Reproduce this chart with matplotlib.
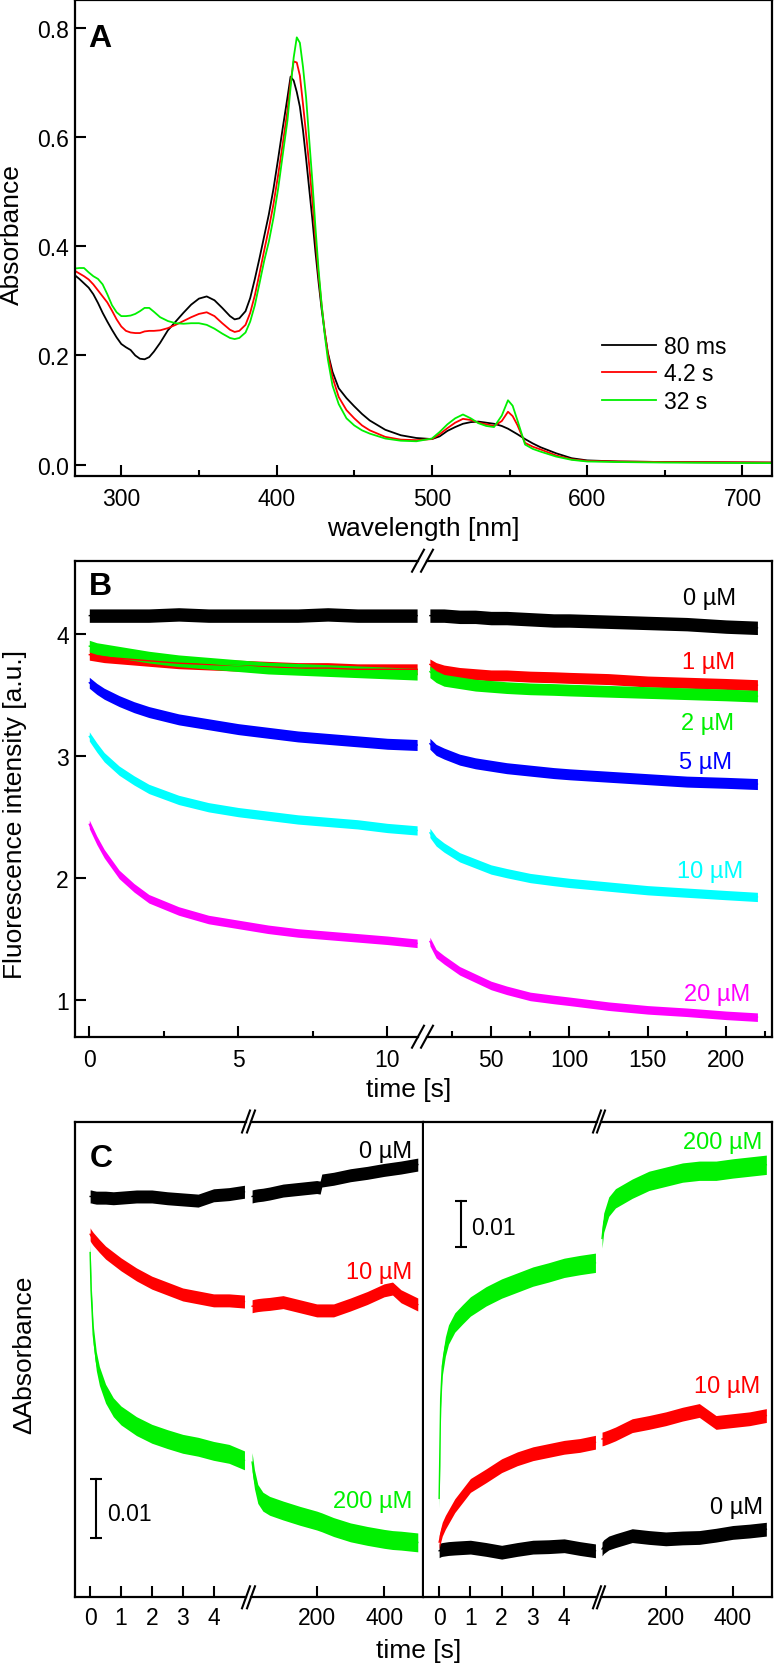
import numpy as np
import matplotlib
matplotlib.use('Agg')
import matplotlib.pyplot as plt
from matplotlib.lines import Line2D
from matplotlib.ticker import MultipleLocator, FixedLocator, FormatStrFormatter, NullLocator

plt.rcParams['font.family'] = ['Liberation Sans', 'DejaVu Sans']

# ---------------- Panel A data: absorbance spectra ----------------
WL = [270, 273, 276, 279, 282, 285, 288, 291, 294, 297,
      300, 303, 306, 309, 312, 315, 318, 321, 325, 330,
      335, 340, 345, 350, 355, 360, 365, 370, 373, 376,
      380, 383, 386, 389, 392, 395, 398, 401, 404, 407,
      409, 411, 413, 415, 417, 419, 421, 423, 425, 427,
      429, 431, 433, 436, 440, 445, 450, 455, 460, 470,
      480, 490, 500, 505, 510, 515, 520, 525, 530, 535,
      540, 545, 549, 552, 555, 560, 565, 570, 580, 590,
      600, 620, 650, 720]
ABS_80MS = [0.347, 0.340, 0.332, 0.324, 0.312, 0.296, 0.278, 0.262, 0.247, 0.233,
            0.221, 0.215, 0.210, 0.200, 0.194, 0.193, 0.197, 0.207, 0.223, 0.246,
            0.262, 0.278, 0.293, 0.304, 0.308, 0.301, 0.287, 0.272, 0.266, 0.268,
            0.281, 0.305, 0.340, 0.378, 0.418, 0.458, 0.505, 0.560, 0.617, 0.672,
            0.710, 0.703, 0.682, 0.655, 0.612, 0.560, 0.505, 0.450, 0.390, 0.335,
            0.285, 0.242, 0.205, 0.170, 0.140, 0.122, 0.107, 0.093, 0.081, 0.064,
            0.054, 0.049, 0.047, 0.052, 0.062, 0.069, 0.075, 0.078, 0.079, 0.077,
            0.075, 0.071, 0.066, 0.061, 0.056, 0.047, 0.039, 0.032, 0.021, 0.012,
            0.008, 0.006, 0.005, 0.004]
ABS_4S = [0.355, 0.350, 0.345, 0.339, 0.330, 0.319, 0.308, 0.297, 0.282, 0.266,
          0.253, 0.245, 0.242, 0.241, 0.241, 0.244, 0.245, 0.245, 0.246, 0.250,
          0.256, 0.263, 0.270, 0.276, 0.279, 0.272, 0.259, 0.247, 0.243, 0.245,
          0.256, 0.278, 0.310, 0.350, 0.392, 0.432, 0.477, 0.530, 0.588, 0.648,
          0.700, 0.738, 0.736, 0.712, 0.660, 0.605, 0.548, 0.485, 0.415, 0.348,
          0.292, 0.244, 0.203, 0.160, 0.124, 0.100, 0.085, 0.072, 0.063, 0.051,
          0.046, 0.045, 0.047, 0.056, 0.067, 0.077, 0.084, 0.082, 0.077, 0.074,
          0.071, 0.080, 0.097, 0.089, 0.073, 0.040, 0.033, 0.028, 0.017, 0.010,
          0.007, 0.006, 0.005, 0.004]
ABS_32S = [0.359, 0.360, 0.360, 0.352, 0.345, 0.340, 0.330, 0.312, 0.292, 0.279,
           0.272, 0.272, 0.273, 0.276, 0.281, 0.287, 0.287, 0.280, 0.270, 0.263,
           0.259, 0.258, 0.259, 0.259, 0.256, 0.249, 0.240, 0.232, 0.230, 0.232,
           0.242, 0.262, 0.292, 0.332, 0.373, 0.408, 0.452, 0.505, 0.568, 0.630,
           0.690, 0.745, 0.782, 0.772, 0.728, 0.672, 0.595, 0.520, 0.435, 0.358,
           0.293, 0.238, 0.193, 0.145, 0.111, 0.085, 0.072, 0.063, 0.057, 0.048,
           0.044, 0.043, 0.048, 0.060, 0.074, 0.085, 0.092, 0.085, 0.076, 0.071,
           0.069, 0.090, 0.118, 0.108, 0.082, 0.037, 0.029, 0.024, 0.015, 0.009,
           0.006, 0.005, 0.004, 0.003]
A_LABELS = ['80 ms', '4.2 s', '32 s']
A_COLORS = ['#000000', '#FF0000', '#00F000']

# ---------------- Panel B data: fluorescence traces ----------------
B_T_LEFT = [0, 0.25, 0.5, 1, 1.5, 2, 3, 4, 5, 6, 7, 8, 9, 10, 11]
B_T_RIGHT = [11, 15, 20, 30, 40, 50, 60, 75, 90, 100, 125, 150, 175, 200, 220]
B_LABELS = ['0 µM', '1 µM', '2 µM', '5 µM', '10 µM', '20 µM']
B_COLORS = ['#000000', '#FF0000', '#00F000', '#0000FF', '#00FFFF', '#FF00FF']
B_LEFT = [
    [4.15, 4.15, 4.15, 4.15, 4.15, 4.15, 4.16, 4.15, 4.15, 4.15, 4.15, 4.16, 4.15, 4.15, 4.15],
    [3.83, 3.82, 3.81, 3.80, 3.79, 3.78, 3.76, 3.75, 3.74, 3.73, 3.72, 3.72, 3.71, 3.71, 3.71],
    [3.90, 3.88, 3.87, 3.85, 3.83, 3.81, 3.78, 3.76, 3.74, 3.72, 3.71, 3.70, 3.69, 3.68, 3.67],
    [3.60, 3.55, 3.51, 3.45, 3.40, 3.36, 3.30, 3.26, 3.22, 3.19, 3.16, 3.14, 3.12, 3.10, 3.09],
    [3.16, 3.07, 2.99, 2.88, 2.80, 2.73, 2.64, 2.58, 2.54, 2.51, 2.48, 2.46, 2.44, 2.41, 2.39],
    [2.44, 2.31, 2.20, 2.03, 1.92, 1.83, 1.73, 1.66, 1.62, 1.58, 1.55, 1.53, 1.51, 1.49, 1.465],
]
B_RIGHT = [
    [4.15, 4.15, 4.15, 4.14, 4.14, 4.13, 4.13, 4.12, 4.11, 4.11, 4.10, 4.09, 4.08, 4.06, 4.05],
    [3.75, 3.72, 3.70, 3.68, 3.67, 3.66, 3.66, 3.65, 3.645, 3.64, 3.63, 3.61, 3.60, 3.59, 3.58],
    [3.69, 3.65, 3.62, 3.60, 3.58, 3.57, 3.56, 3.55, 3.545, 3.54, 3.53, 3.52, 3.51, 3.50, 3.49],
    [3.10, 3.05, 3.02, 2.97, 2.94, 2.92, 2.90, 2.88, 2.86, 2.85, 2.83, 2.81, 2.79, 2.78, 2.77],
    [2.37, 2.30, 2.25, 2.17, 2.12, 2.07, 2.04, 2.00, 1.975, 1.96, 1.93, 1.90, 1.88, 1.86, 1.845],
    [1.48, 1.38, 1.33, 1.24, 1.18, 1.12, 1.08, 1.03, 1.005, 0.99, 0.95, 0.92, 0.90, 0.875, 0.86],
]
B_NOISE = [0.055, 0.045, 0.048, 0.045, 0.038, 0.035]   # half-width of the noise band

# ---------------- Panel C data: delta absorbance traces ----------------
C_COLORS = ['#000000', '#FF0000', '#00F000']
C_LABELS = ['0 µM', '10 µM', '200 µM']
# left panel
CL_T1 = [0, 0.03, 0.1, 0.2, 0.3, 0.5, 0.75, 1, 1.5, 2, 2.5, 3, 3.5, 4, 4.5, 5]
CL_T2 = [8, 15, 25, 40, 60, 100, 150, 200, 210, 215, 250, 300, 350, 400, 425, 450, 500]
CL_1 = [
    [0.0679, 0.0679, 0.0678, 0.0677, 0.0677, 0.0677, 0.0676, 0.0677, 0.0679, 0.0679, 0.0676,
     0.0674, 0.0672, 0.0681, 0.0683, 0.0687],
    [0.0615, 0.0612, 0.0607, 0.0601, 0.0595, 0.0584, 0.0574, 0.0564, 0.0547, 0.0533, 0.0523,
     0.0513, 0.0508, 0.0503, 0.0503, 0.0501],
    [0.0584, 0.0520, 0.0445, 0.0400, 0.0375, 0.0345, 0.0322, 0.0308, 0.0290, 0.0277, 0.0268,
     0.0260, 0.0255, 0.0248, 0.0243, 0.0232],
]
CL_2 = [
    [0.0679, 0.0680, 0.0681, 0.0682, 0.0684, 0.0689, 0.0692, 0.0695, 0.0694, 0.0706, 0.0709,
     0.0715, 0.0719, 0.0724, 0.0726, 0.0728, 0.0733],
    [0.0493, 0.0494, 0.0495, 0.0496, 0.0497, 0.0500, 0.0493, 0.0486, 0.0486, 0.0486, 0.0486,
     0.0496, 0.0507, 0.0520, 0.0523, 0.0510, 0.0496],
    [0.0229, 0.0200, 0.0175, 0.0162, 0.0155, 0.0147, 0.0138, 0.0130, 0.0128, 0.0127, 0.0119,
     0.0110, 0.0104, 0.0099, 0.0097, 0.0096, 0.0093],
]
CL_NOISE = [0.0011, 0.0011, 0.0016]
# right panel
CR_T1 = [0, 0.05, 0.1, 0.2, 0.3, 0.5, 0.75, 1, 1.5, 2, 2.5, 3, 3.5, 4, 4.5, 5]
CR_T2 = [10, 15, 30, 50, 100, 150, 200, 250, 300, 350, 400, 450, 500]
CR_1 = [
    [0.0101, 0.0103, 0.0104, 0.0105, 0.0106, 0.0107, 0.0108, 0.0109, 0.0104, 0.0098, 0.0104,
     0.0109, 0.0110, 0.0112, 0.0106, 0.0101],
    [0.0120, 0.0135, 0.0148, 0.0163, 0.0175, 0.0199, 0.0221, 0.0243, 0.0264, 0.0286, 0.0301,
     0.0312, 0.0319, 0.0326, 0.0330, 0.0337],
    [0.0215, 0.0432, 0.0502, 0.0545, 0.0571, 0.0597, 0.0615, 0.0632, 0.0654, 0.0671, 0.0684,
     0.0697, 0.0706, 0.0716, 0.0722, 0.0727],
]
CR_2 = [
    [0.0105, 0.0110, 0.0118, 0.0123, 0.0134, 0.0130, 0.0127, 0.0129, 0.0130, 0.0135, 0.0141,
     0.0144, 0.0148],
    [0.0344, 0.0345, 0.0349, 0.0355, 0.0373, 0.0380, 0.0388, 0.0398, 0.0406, 0.0380, 0.0384,
     0.0388, 0.0395],
    [0.0780, 0.0814, 0.0849, 0.0867, 0.0888, 0.0905, 0.0914, 0.0923, 0.0927, 0.0927, 0.0932,
     0.0936, 0.0940],
]
CR_NOISE = [0.0015, 0.0015, 0.0021]
SCALE_BAR = 0.01

assert len(WL) == len(ABS_80MS) == len(ABS_4S) == len(ABS_32S)

# ---------------- figure / layout helpers ----------------
W, H = 774, 1665
fig = plt.figure(figsize=(W / 100, H / 100), dpi=100)


def axes_px(l, t, r, b):
    return fig.add_axes([l / W, 1 - b / H, (r - l) / W, (b - t) / H])


def ftext(x, y, s, **kw):
    return fig.text(x / W, 1 - y / H, s, **kw)


def slash(cx, cy, dx, dy=11):
    fig.add_artist(Line2D([(cx - dx) / W, (cx + dx) / W], [1 - (cy + dy) / H, 1 - (cy - dy) / H],
                          transform=fig.transFigure, color='black', lw=1.5, clip_on=False))


def style(ax, xpad=8.4):
    for s in ax.spines.values():
        s.set_linewidth(1.6)
    ax.tick_params(which='both', direction='in', width=1.5, top=False, right=False,
                   labelsize=16.5)
    ax.tick_params(which='major', length=8)
    ax.tick_params(which='minor', length=4.5)
    ax.tick_params(axis='x', pad=xpad)
    ax.tick_params(axis='y', pad=4.3)


def band(ax, t, v, hw, color):
    t = np.asarray(t, float)
    v = np.asarray(v, float)
    ax.fill_between(t, v - hw, v + hw, color=color, lw=0)
    ax.plot(t, v, color=color, lw=1.0)


TICK = 16.5
LAB = 19
SER = 17
LET = 23

# ---------------- Panel A ----------------
axA = axes_px(74.7, 1.2, 772, 476.7)
style(axA)
for vals, lab, col in zip([ABS_80MS, ABS_4S, ABS_32S], A_LABELS, A_COLORS):
    axA.plot(WL, vals, color=col, lw=1.3, label=lab)
axA.set_xlim(270, 719)
axA.set_ylim(-0.02, 0.85)
axA.xaxis.set_major_locator(MultipleLocator(100))
axA.xaxis.set_minor_locator(MultipleLocator(50))
axA.yaxis.set_major_locator(MultipleLocator(0.2))
axA.yaxis.set_major_formatter(FormatStrFormatter('%.1f'))
axA.legend(loc='upper left', bbox_to_anchor=(602 / W, 1 - 336 / H), bbox_transform=fig.transFigure,
           frameon=False, handlelength=2.36, handletextpad=0.35, labelspacing=0.19,
           borderpad=0, borderaxespad=0, fontsize=TICK)
ftext(88, 46.7, 'A', fontsize=LET, fontweight='bold', va='baseline')
ftext(423, 536, 'wavelength [nm]', fontsize=LAB, ha='center', va='baseline')
ftext(12, 235, 'Absorbance', fontsize=LAB, rotation=90, ha='center', va='center')

# ---------------- Panel B ----------------
B_TOP, B_BOT = 561.7, 1037.7
axB1 = axes_px(74.7, B_TOP, 418, B_BOT)
axB2 = axes_px(427, B_TOP, 772, B_BOT)
for ax in (axB1, axB2):
    style(ax)
    ax.set_ylim(0.7, 4.6)
axB1.set_xlim(-0.49, 11.03)
axB2.set_xlim(9.16, 229.3)
axB1.spines['right'].set_visible(False)
axB2.spines['left'].set_visible(False)
axB2.tick_params(axis='y', left=False, labelleft=False)
axB1.yaxis.set_major_locator(FixedLocator([1, 2, 3, 4]))
axB1.xaxis.set_major_locator(FixedLocator([0, 5, 10]))
axB1.xaxis.set_minor_locator(FixedLocator([2.5, 7.5]))
axB2.xaxis.set_major_locator(FixedLocator([50, 100, 150, 200]))
axB2.xaxis.set_minor_locator(FixedLocator([25, 75, 125, 175, 225]))
for i in range(len(B_LABELS)):
    band(axB1, B_T_LEFT, B_LEFT[i], B_NOISE[i], B_COLORS[i])
    band(axB2, B_T_RIGHT, B_RIGHT[i], B_NOISE[i], B_COLORS[i])
for y in (B_TOP, B_BOT):
    slash(418, y, 6)
    slash(427, y, 6)
B_LAB_POS = [(736.4, 604.5), (735.4, 669), (734.5, 730.3), (732, 768.8), (742.8, 877.7), (750.2, 1000.6)]
for (x, y), lab, col in zip(B_LAB_POS, B_LABELS, B_COLORS):
    ftext(x, y, lab, fontsize=SER, color=col, ha='right', va='baseline')
ftext(89.3, 595, 'B', fontsize=LET, fontweight='bold', va='baseline')
ftext(409, 1096.7, 'time [s]', fontsize=LAB, ha='center', va='baseline')
ftext(15, 815, 'Fluorescence intensity [a.u.]', fontsize=LAB, rotation=90, ha='center', va='center')

# ---------------- Panel C ----------------
C_TOP, C_BOT = 1122.5, 1598.3
axL1 = axes_px(74.7, C_TOP, 246, C_BOT)
axL2 = axes_px(251, C_TOP, 423.5, C_BOT)
axR1 = axes_px(423.5, C_TOP, 597, C_BOT)
axR2 = axes_px(601, C_TOP, 771.7, C_BOT)
for ax in (axL1, axL2, axR1, axR2):
    style(ax, xpad=6.5)
    ax.tick_params(axis='y', left=False, labelleft=False)
    ax.yaxis.set_major_locator(NullLocator())
for ax in (axL1, axR1):
    ax.set_xlim(-0.5, 5.05)
    ax.xaxis.set_major_locator(FixedLocator([0, 1, 2, 3, 4]))
    ax.spines['right'].set_visible(False)
axR1.spines['left'].set_visible(False)
axL2.set_xlim(4.75, 517)
axR2.set_xlim(6.9, 516)
for ax in (axL2, axR2):
    ax.xaxis.set_major_locator(FixedLocator([200, 400]))
    ax.spines['left'].set_visible(False)
for ax in (axL1, axL2):
    ax.set_ylim(0, 0.0806)
for ax in (axR1, axR2):
    ax.set_ylim(0, 0.1034)

for i in range(3):
    band(axL1, CL_T1, CL_1[i], CL_NOISE[i], C_COLORS[i])
    band(axL2, CL_T2, CL_2[i], CL_NOISE[i], C_COLORS[i])
    band(axR1, CR_T1, CR_1[i], CR_NOISE[i], C_COLORS[i])
    band(axR2, CR_T2, CR_2[i], CR_NOISE[i], C_COLORS[i])

# scale bars
axL1.plot([0.19, 0.19], [0.01, 0.01 + SCALE_BAR], color='black', lw=1.5,
          marker='_', markersize=8.4, markeredgewidth=1.5)
axR1.plot([0.69, 0.69], [0.0762, 0.0762 + SCALE_BAR], color='black', lw=1.5,
          marker='_', markersize=8.4, markeredgewidth=1.5)
ftext(106.7, 1521.5, '0.01', fontsize=TICK, va='baseline')
ftext(471.4, 1235, '0.01', fontsize=TICK, va='baseline')

for y in (C_TOP, C_BOT):
    slash(246, y, 4)
    slash(251, y, 4)
    slash(597, y, 4)
    slash(601, y, 4)

CL_LAB_POS = [(412, 1158.3), (412, 1279.3), (412, 1508.5)]
CR_LAB_POS = [(762.7, 1514.5), (760, 1392.7), (762.6, 1149.1)]
for (x, y), lab, col in zip(CL_LAB_POS, C_LABELS, C_COLORS):
    ftext(x, y, lab, fontsize=SER, color=col, ha='right', va='baseline')
for (x, y), lab, col in zip(CR_LAB_POS, C_LABELS, C_COLORS):
    ftext(x, y, lab, fontsize=SER, color=col, ha='right', va='baseline')
ftext(90, 1167, 'C', fontsize=LET, fontweight='bold', va='baseline')
ftext(419, 1658, 'time [s]', fontsize=LAB, ha='center', va='baseline')
ftext(24.7, 1355, 'ΔAbsorbance', fontsize=LAB, rotation=90, ha='center', va='center')

fig.savefig('out.png', dpi=100)
